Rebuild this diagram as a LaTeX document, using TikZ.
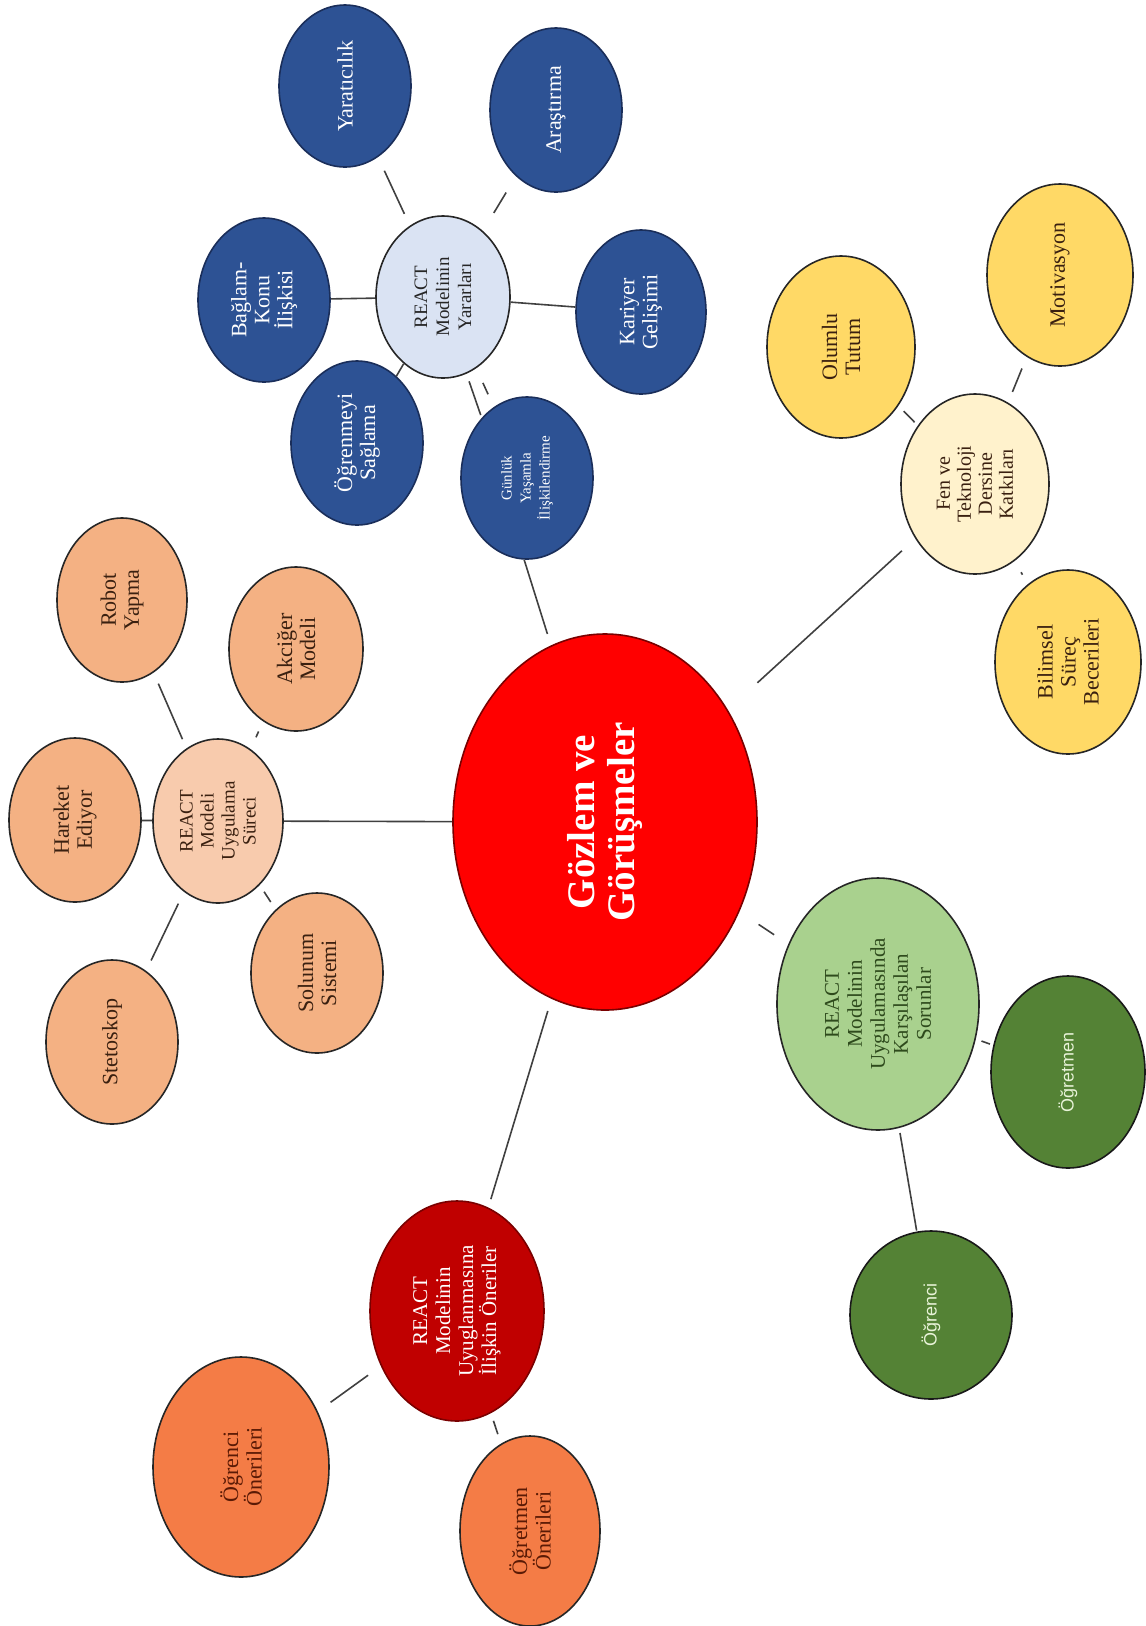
\documentclass[tikz,border=0pt]{standalone}
\usepackage{fontspec}
\setmainfont{Liberation Serif}
\setsansfont{Liberation Sans}
\usetikzlibrary{shapes.geometric}
\newcommand\myfs[2]{\fontsize{#1}{#2}\selectfont}
\definecolor{cblue}{HTML}{2D5294}
\definecolor{cbluedk}{HTML}{1A2E5A}
\definecolor{cyar}{HTML}{DAE3F3}
\definecolor{cpeach}{HTML}{F4B183}
\definecolor{cpeachlt}{HTML}{F8CBAD}
\definecolor{cbrown}{HTML}{3A2010}
\definecolor{cred}{HTML}{FF0000}
\definecolor{credline}{HTML}{7A0000}
\definecolor{cyel}{HTML}{FFD966}
\definecolor{cyellt}{HTML}{FFF2CC}
\definecolor{cgreenlt}{HTML}{A9D18E}
\definecolor{cgreendk}{HTML}{548235}
\definecolor{cgreentxt}{HTML}{2E4A1C}
\definecolor{cpale}{HTML}{E8F3D8}
\definecolor{cdred}{HTML}{C00000}
\definecolor{corange}{HTML}{F47C46}
\definecolor{corangetxt}{HTML}{5A1A05}
\definecolor{clink}{HTML}{404040}
\tikzset{
  bub/.style 2 args={ellipse, rotate=90, inner sep=0pt, align=center, line width=1.6pt,
    minimum width=#2*2pt, minimum height=#1*2pt},
  bluebox/.style={fill=cblue, draw=cbluedk, text=white, font=\myfs{22}{23}},
  yarbox/.style={fill=cyar, draw=black!85, text=black!85, font=\myfs{19}{22}},
  peachbox/.style={fill=cpeach, draw=black!85, text=cbrown, font=\myfs{22}{23}},
  surbox/.style={fill=cpeachlt, draw=black!85, text=cbrown, font=\myfs{19}{21}},
  centerbox/.style={fill=cred, draw=credline, text=white, font=\bfseries\myfs{39}{40}},
  yelbox/.style={fill=cyel, draw=black!85, text=cbrown, font=\myfs{22}{23}},
  fenbox/.style={fill=cyellt, draw=black!85, text=cbrown, font=\myfs{20}{21}},
  karsbox/.style={fill=cgreenlt, draw=black!85, text=cgreentxt, font=\myfs{21}{23}},
  dgreenbox/.style={fill=cgreendk, draw=black!90, text=cpale, font=\sffamily\myfs{18}{20}},
  onebox/.style={fill=cdred, draw=credline, text=white, font=\myfs{21}{23}},
  orangebox/.style={fill=corange, draw=black!85, text=corangetxt, font=\myfs{22}{21}},
  link/.style={draw=clink, line width=1.6pt},
}
\begin{document}
\begin{tikzpicture}[x=1pt, y=1pt]
\useasboundingbox[fill=white] (0,0) rectangle (1146,-1626);

% centre
\node[centerbox, bub={152}{188}] (gozlem) at (605,-822) {Gözlem ve\\Görüşmeler};

% REACT Modelinin Yararlari group
\node[yarbox, bub={67}{81}] (yar) at (443,-297) {REACT\\Modelinin\\Yararları};
\node[bluebox, bub={66}{81}] (yrt) at (345,-86) {Yaratıcılık};
\node[bluebox, bub={66}{82}] (ars) at (556,-110) {Araştırma};
\node[bluebox, bub={66}{82}] (bag) at (264,-300) {Bağlam-\\Konu\\İlişkisi};
\node[bluebox, bub={65}{82}] (kar) at (641,-312) {Kariyer\\Gelişimi};
\node[bluebox, bub={66}{82}] (ogr) at (357,-443) {Öğrenmeyi\\Sağlama};
\node[bluebox, bub={66}{81}, font=\myfs{15}{19}] (gun) at (527,-478) {Günlük\\Yaşamla\\İlişkilendirme};

% REACT Modeli Uygulama Sureci group
\node[surbox, bub={65}{82}] (sur) at (218,-821) {REACT\\Modeli\\Uygulama\\Süreci};
\node[peachbox, bub={65}{82}] (rob) at (122,-600) {Robot\\Yapma};
\node[peachbox, bub={67}{82}] (akc) at (296,-649) {Akciğer\\Modeli};
\node[peachbox, bub={66}{82}] (har) at (75,-820) {Hareket\\Ediyor};
\node[peachbox, bub={66}{80}] (sol) at (317,-973) {Solunum\\Sistemi};
\node[peachbox, bub={66}{82}] (ste) at (112,-1042) {Stetoskop};

% Fen ve Teknoloji group
\node[fenbox, bub={74}{90}] (fen) at (975,-484) {Fen ve\\Teknoloji\\Dersine\\Katkıları};
\node[yelbox, bub={74}{91}] (olu) at (841,-347) {Olumlu\\Tutum};
\node[yelbox, bub={73}{91}] (mot) at (1060,-275) {Motivasyon};
\node[yelbox, bub={73}{92}] (bil) at (1068,-662) {Bilimsel\\Süreç\\Becerileri};

% Sorunlar group
\node[karsbox, bub={101}{126}] (kars) at (878,-1004) {REACT\\Modelinin\\Uygulamasında\\Karşılaşılan\\Sorunlar};
\node[dgreenbox, bub={77}{96}] (ogt) at (1068,-1072) {Öğretmen};
\node[dgreenbox, bub={81}{84}] (ogc) at (931,-1315) {Öğrenci};

% Oneriler group
\node[onebox, bub={87}{110}] (one) at (457,-1311) {REACT\\Modelinin\\Uyuglanmasına\\İlişkin Öneriler};
\node[orangebox, bub={88}{110}] (ocn) at (241,-1467) {Öğrenci\\Önerileri};
\node[orangebox, bub={70}{95}] (otn) at (530,-1531) {Öğretmen\\Önerileri};

% connectors
\draw[link, shorten <=13pt, shorten >=15pt] (yar) -- (yrt);
\draw[link, shorten <=21pt, shorten >=19pt] (yar) -- (ars);
\draw[link] (yar) -- (bag);
\draw[link] (yar) -- (kar);
\draw[link] (yar) -- (ogr);
\draw[link, shorten <=8pt, shorten >=3pt] (yar.197) -- (gun.37);
\draw[link, shorten <=16pt, shorten >=14pt] (yar.205) -- (gun.25);
\draw[link, shorten >=12pt] (gun.178) -- (gozlem.17);

\draw[link] (gozlem) -- (sur);
\draw[link, shorten <=10pt, shorten >=12pt] (sur) -- (rob);
\draw[link, shorten <=13pt, shorten >=11pt] (sur) -- (akc);
\draw[link] (sur) -- (har);
\draw[link, shorten <=13pt, shorten >=11.5pt] (sur) -- (ste);
\draw[link, shorten <=8pt, shorten >=9pt] (sur) -- (sol);

\draw[link, shorten <=40pt, shorten >=18pt] (gozlem) -- (fen);
\draw[link, shorten <=4.5pt, shorten >=7.5pt] (fen) -- (olu);
\draw[link, shorten <=11.5pt, shorten >=12.5pt] (fen) -- (mot);
\draw[link, shorten <=13pt, shorten >=11pt] (fen) -- (bil);

\draw[link, shorten <=23pt, shorten >=17pt] (gozlem) -- (kars);
\draw[link, shorten <=6pt, shorten >=3.5pt] (kars) -- (ogt);
\draw[link, shorten <=5pt, shorten >=1pt] (kars) -- (ogc);

\draw[link, shorten <=12.7pt, shorten >=8.7pt] (gozlem) -- (one);
\draw[link, shorten <=15.7pt, shorten >=15.7pt] (one) -- (ocn);
\draw[link, shorten <=8pt, shorten >=10pt] (one) -- (otn);
\end{tikzpicture}
\end{document}
